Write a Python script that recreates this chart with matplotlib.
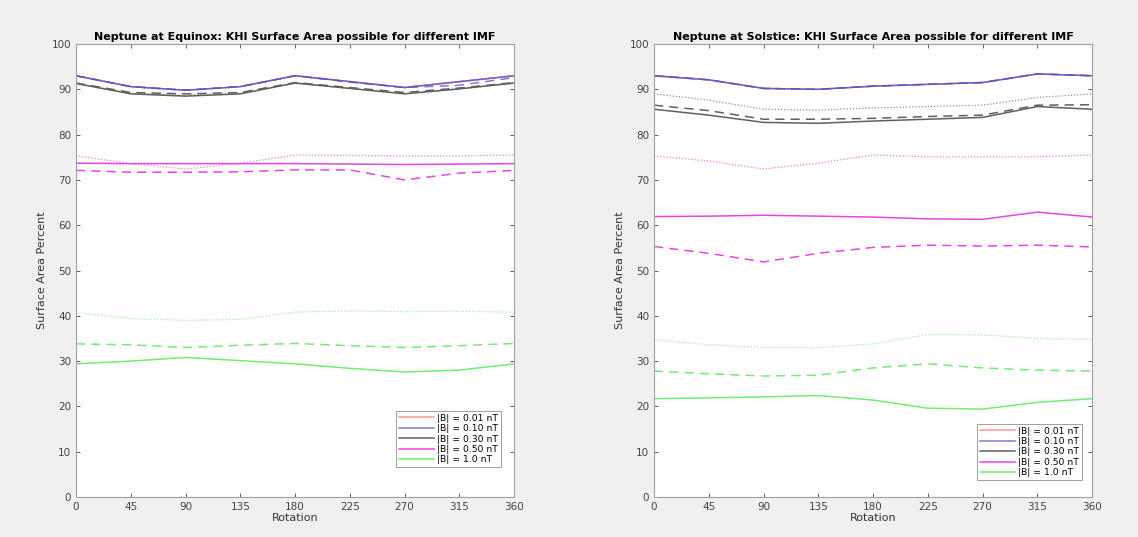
import numpy as np
import matplotlib
matplotlib.use("Agg")
import matplotlib.pyplot as plt

rotation = [0, 45, 90, 135, 180, 225, 270, 315, 360]
labels = ["|B| = 0.01 nT", "|B| = 0.10 nT", "|B| = 0.30 nT", "|B| = 0.50 nT", "|B| = 1.0 nT"]
colors = ["#ff9a9a", "#5050d0", "#606060", "#e545e5", "#70ee70"]
alphas = [1.0, 0.75, 1.0, 1.0, 1.0]

# Equinox: solid / dashed / dotted per |B|
eq_001_solid = [93.0, 90.6, 89.8, 90.6, 93.0, 91.7, 90.4, 91.7, 93.0]
eq_001_dash = [93.0, 90.6, 89.8, 90.6, 93.0, 91.7, 90.4, 91.7, 93.0]
eq_001_dot = [93.0, 90.6, 89.8, 90.6, 93.0, 91.7, 90.4, 91.7, 93.0]
eq_010_solid = [93.0, 90.6, 89.8, 90.6, 93.0, 91.7, 90.4, 91.7, 93.0]
eq_010_dash = [93.0, 90.6, 89.8, 90.6, 93.0, 91.6, 90.4, 90.9, 92.6]
eq_010_dot = [93.0, 90.6, 89.8, 90.6, 93.0, 91.7, 90.4, 91.7, 93.0]
eq_030_solid = [91.3, 89.0, 88.5, 89.0, 91.4, 90.2, 89.0, 90.1, 91.4]
eq_030_dash = [91.4, 89.3, 89.0, 89.3, 91.5, 90.4, 89.3, 90.3, 91.5]
eq_030_dot = [91.2, 89.1, 88.7, 89.1, 91.3, 90.2, 89.1, 90.1, 91.3]
eq_050_solid = [73.7, 73.6, 73.6, 73.6, 73.6, 73.5, 73.4, 73.5, 73.6]
eq_050_dash = [72.1, 71.7, 71.7, 71.8, 72.2, 72.2, 70.0, 71.5, 72.1]
eq_050_dot = [75.3, 73.6, 72.4, 73.7, 75.5, 75.4, 75.3, 75.3, 75.5]
eq_100_solid = [29.4, 30.0, 30.8, 30.1, 29.4, 28.4, 27.6, 28.0, 29.4]
eq_100_dash = [33.8, 33.6, 33.0, 33.5, 33.9, 33.4, 33.0, 33.4, 33.9]
eq_100_dot = [40.7, 39.4, 39.0, 39.2, 40.8, 41.1, 40.9, 41.0, 40.8]

# Solstice
so_001_solid = [93.0, 92.1, 90.2, 90.0, 90.7, 91.1, 91.5, 93.4, 93.0]
so_001_dash = [93.0, 92.1, 90.2, 90.0, 90.7, 91.1, 91.5, 93.4, 93.0]
so_001_dot = [93.0, 92.1, 90.2, 90.0, 90.7, 91.1, 91.5, 93.4, 93.0]
so_010_solid = [93.0, 92.1, 90.2, 90.0, 90.7, 91.1, 91.5, 93.4, 93.0]
so_010_dash = [93.0, 92.1, 90.2, 90.0, 90.7, 91.1, 91.5, 93.4, 93.0]
so_010_dot = [93.0, 92.1, 90.2, 90.0, 90.7, 91.1, 91.5, 93.4, 93.0]
so_030_solid = [85.6, 84.3, 82.7, 82.5, 83.0, 83.4, 83.8, 86.2, 85.6]
so_030_dash = [86.5, 85.3, 83.4, 83.4, 83.6, 84.0, 84.3, 86.5, 86.6]
so_030_dot = [89.0, 87.6, 85.6, 85.4, 85.9, 86.2, 86.5, 88.2, 89.0]
so_050_solid = [61.9, 62.0, 62.2, 62.0, 61.8, 61.4, 61.3, 62.9, 61.8]
so_050_dash = [55.3, 53.8, 51.9, 53.8, 55.1, 55.6, 55.4, 55.6, 55.2]
so_050_dot = [75.3, 74.2, 72.4, 73.7, 75.5, 75.1, 75.1, 75.1, 75.5]
so_100_solid = [21.7, 21.9, 22.1, 22.4, 21.4, 19.6, 19.4, 20.9, 21.7]
so_100_dash = [27.8, 27.2, 26.7, 26.9, 28.5, 29.4, 28.5, 28.0, 27.8]
so_100_dot = [34.7, 33.6, 33.0, 33.0, 33.8, 35.9, 35.8, 35.0, 34.8]

equinox = [
    (eq_001_solid, eq_001_dash, eq_001_dot),
    (eq_010_solid, eq_010_dash, eq_010_dot),
    (eq_030_solid, eq_030_dash, eq_030_dot),
    (eq_050_solid, eq_050_dash, eq_050_dot),
    (eq_100_solid, eq_100_dash, eq_100_dot),
]
solstice = [
    (so_001_solid, so_001_dash, so_001_dot),
    (so_010_solid, so_010_dash, so_010_dot),
    (so_030_solid, so_030_dash, so_030_dot),
    (so_050_solid, so_050_dash, so_050_dot),
    (so_100_solid, so_100_dash, so_100_dot),
]

fig = plt.figure(figsize=(11.38, 5.37), dpi=100, facecolor="#f0f0f0")
ax1 = fig.add_axes([0.0668, 0.0745, 0.385, 0.8435])
ax2 = fig.add_axes([0.5747, 0.0745, 0.385, 0.8435])


def draw(ax, series, title, leg_anchor):
    handles = []
    for (solid, dash, dot), c, a, lab in zip(series, colors, alphas, labels):
        h, = ax.plot(rotation, solid, color=c, lw=1.1, ls="-", alpha=a, label=lab)
        ax.plot(rotation, dash, color=c, lw=1.1, ls=(0, (6, 4)), alpha=a)
        ax.plot(rotation, dot, color=c, lw=0.9, ls=(0, (1, 1.5)), alpha=0.7 * a)
        handles.append(h)
    ax.set_xlim(0, 360)
    ax.set_ylim(0, 100)
    ax.set_xticks(rotation)
    ax.set_yticks(np.arange(0, 101, 10))
    ax.tick_params(direction="in", top=True, right=True, labelsize=7.5,
                   colors="#444444", length=3, width=0.6)
    for s in ax.spines.values():
        s.set_color("#a0a0a0")
        s.set_linewidth(0.8)
    ax.set_xlabel("Rotation", fontsize=8, color="#333333", labelpad=1)
    ax.set_ylabel("Surface Area Percent", fontsize=8, color="#333333", labelpad=3)
    ax.set_title(title, fontsize=8, fontweight="bold", pad=3)
    leg = ax.legend(handles=handles, loc="lower right", bbox_to_anchor=leg_anchor,
                    fontsize=6.7, frameon=True, fancybox=False, handlelength=3.8,
                    borderpad=0.3, labelspacing=0.15, handletextpad=0.3,
                    borderaxespad=0)
    leg.get_frame().set_edgecolor("#888888")
    leg.get_frame().set_linewidth(0.7)


draw(ax1, equinox, "Neptune at Equinox: KHI Surface Area possible for different IMF", (0.970, 0.066))
draw(ax2, solstice, "Neptune at Solstice: KHI Surface Area possible for different IMF", (0.977, 0.0375))

fig.savefig("out.png", dpi=100, facecolor=fig.get_facecolor())
